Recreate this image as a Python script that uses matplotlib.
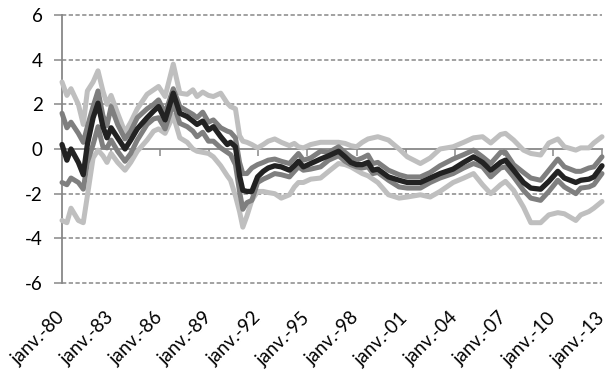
import matplotlib
matplotlib.use("Agg")
import matplotlib.pyplot as plt

plt.rcParams["font.family"] = ["Lato", "DejaVu Sans"]
plt.rcParams["axes.unicode_minus"] = False

# Dates in decimal years
dates = [1980.0, 1980.3, 1980.55, 1981.0, 1981.3, 1981.55, 1981.9, 1982.2, 1982.5, 1982.75,
         1983.0, 1983.4, 1983.85, 1984.2, 1984.6, 1985.2, 1985.6, 1985.9, 1986.3, 1986.8,
         1987.2, 1987.65, 1988.0, 1988.25, 1988.6, 1988.95, 1989.25, 1989.7, 1990.1, 1990.3,
         1990.6, 1990.85, 1991.05, 1991.3, 1991.6, 1991.95, 1992.3, 1992.6, 1993.0, 1993.4,
         1993.9, 1994.2, 1994.45, 1994.75, 1995.2, 1995.8, 1996.3, 1996.9, 1997.3, 1997.65,
         1998.0, 1998.35, 1998.7, 1999.0, 1999.3, 1999.95, 2000.6, 2001.1, 2001.9, 2002.5,
         2003.1, 2003.9, 2004.55, 2005.15, 2005.7, 2006.2, 2006.8, 2007.1, 2007.6, 2008.2,
         2008.65, 2009.25, 2009.75, 2010.3, 2010.7, 2011.4, 2011.7, 2012.2, 2012.5, 2013.0]

light_upper = [3.0, 2.4, 2.7, 2.0, 1.1, 2.6, 3.0, 3.5, 2.6, 2.0,
               2.4, 1.6, 0.75, 1.2, 1.8, 2.45, 2.65, 2.8, 2.35, 3.8,
               2.5, 2.45, 2.65, 2.35, 2.55, 2.4, 2.35, 2.5, 2.05, 1.9,
               1.8, 0.6, 0.35, 0.3, 0.2, 0.05, 0.2, 0.35, 0.45, 0.3,
               0.15, 0.25, 0.1, 0.05, 0.2, 0.3, 0.3, 0.3, 0.25, 0.15,
               0.1, 0.3, 0.45, 0.5, 0.55, 0.4, 0.0, -0.35, -0.65, -0.4,
               0.0, 0.1, 0.3, 0.5, 0.55, 0.27, 0.65, 0.7, 0.4, -0.05,
               -0.2, -0.27, 0.27, 0.45, 0.1, -0.05, 0.05, 0.05, 0.27, 0.55]

dark_upper = [1.6, 0.95, 1.2, 0.7, 0.3, 1.0, 1.9, 2.6, 1.5, 1.05,
              1.9, 1.1, 0.45, 0.8, 1.4, 1.8, 2.0, 2.2, 1.6, 2.7,
              1.9, 1.7, 1.55, 1.4, 1.65, 1.2, 1.3, 0.95, 0.8, 0.75,
              0.5, -0.6, -1.1, -1.1, -0.85, -0.7, -0.6, -0.5, -0.45, -0.55,
              -0.65, -0.4, -0.2, -0.5, -0.4, -0.1, -0.15, 0.1, -0.15, -0.35,
              -0.5, -0.4, -0.27, -0.65, -0.6, -0.95, -1.15, -1.25, -1.25, -1.05,
              -0.75, -0.45, -0.25, -0.05, -0.35, -0.65, -0.15, -0.15, -0.7, -1.05,
              -1.3, -1.4, -0.95, -0.45, -0.8, -1.0, -1.0, -0.85, -0.8, -0.35]

median = [0.2, -0.5, 0.0, -0.6, -1.15, 0.2, 1.4, 2.05, 1.0, 0.5,
          0.95, 0.5, 0.0, 0.4, 0.9, 1.4, 1.7, 1.9, 1.3, 2.5,
          1.6, 1.45, 1.25, 1.1, 1.25, 0.85, 1.0, 0.55, 0.2, 0.3,
          0.1, -1.2, -1.85, -1.9, -1.9, -1.25, -1.0, -0.85, -0.75, -0.8,
          -0.95, -0.75, -0.55, -0.8, -0.65, -0.45, -0.3, -0.1, -0.35, -0.6,
          -0.7, -0.7, -0.6, -0.95, -0.9, -1.25, -1.4, -1.5, -1.5, -1.3,
          -1.1, -0.9, -0.6, -0.35, -0.6, -0.95, -0.6, -0.5, -0.95, -1.5,
          -1.75, -1.8, -1.45, -1.0, -1.3, -1.5, -1.4, -1.35, -1.25, -0.75]

dark_lower = [-1.5, -1.6, -1.3, -1.5, -1.8, -0.6, 0.2, 1.0, 0.1, 0.05,
              0.4, -0.1, -0.55, -0.2, 0.4, 1.1, 1.35, 1.4, 0.9, 2.05,
              1.15, 1.0, 0.8, 0.55, 0.75, 0.35, 0.35, 0.05, -0.15, -0.25,
              -0.7, -1.9, -2.7, -2.4, -2.3, -1.5, -1.35, -1.25, -1.1, -1.15,
              -1.25, -1.0, -0.8, -0.95, -0.9, -0.8, -0.5, -0.3, -0.55, -0.7,
              -0.8, -0.85, -0.8, -1.1, -1.05, -1.4, -1.7, -1.75, -1.75, -1.5,
              -1.3, -1.1, -0.85, -0.65, -0.8, -1.25, -0.85, -0.8, -1.25, -1.85,
              -2.2, -2.3, -1.9, -1.4, -1.7, -2.0, -1.75, -1.7, -1.6, -1.1]

light_lower = [-3.2, -3.3, -2.65, -3.2, -3.3, -2.1, -0.4, -0.05, -0.3, -0.6,
               -0.2, -0.6, -0.95, -0.6, -0.1, 0.4, 0.8, 0.9, 0.7, 1.5,
               0.5, 0.3, 0.0, -0.1, -0.15, -0.2, -0.35, -0.75, -1.2, -1.4,
               -2.1, -2.8, -3.5, -3.0, -2.3, -1.9, -1.9, -1.95, -2.0, -2.2,
               -2.05, -1.7, -1.5, -1.5, -1.35, -1.3, -1.0, -0.65, -0.7, -0.8,
               -0.95, -1.1, -1.2, -1.35, -1.5, -2.05, -2.2, -2.15, -2.05, -2.15,
               -1.9, -1.5, -1.3, -1.1, -1.6, -2.0, -1.6, -1.45, -1.85, -2.6,
               -3.3, -3.3, -2.95, -2.85, -2.9, -3.2, -2.95, -2.8, -2.65, -2.35]

tick_years = [1980, 1983, 1986, 1989, 1992, 1995, 1998, 2001, 2004, 2007, 2010, 2013]
tick_labels = ["janv.-80", "janv.-83", "janv.-86", "janv.-89", "janv.-92", "janv.-95",
               "janv.-98", "janv.-01", "janv.-04", "janv.-07", "janv.-10", "janv.-13"]
y_ticks = [-6, -4, -2, 0, 2, 4, 6]

W, H = 611, 376
fig = plt.figure(figsize=(W / 100, H / 100), dpi=100)
ax = fig.add_axes([62 / W, 1 - 283 / H, (602 - 62) / W, (283 - 15) / H])

axis_col = "#888888"
for yv in y_ticks:
    if yv != 0:
        ax.axhline(yv, color=axis_col, lw=1.1, ls=(0, (2.8, 1.6)), zorder=1, clip_on=False)

light = "#BFBFBF"
dark = "#7F7F7F"
black = "#222222"
kw = dict(solid_joinstyle="round", solid_capstyle="round", zorder=3, clip_on=False)
ax.plot(dates, light_upper, color=light, lw=3.6, **kw)
ax.plot(dates, light_lower, color=light, lw=3.6, **kw)
ax.plot(dates, dark_upper, color=dark, lw=3.6, **kw)
ax.plot(dates, dark_lower, color=dark, lw=3.6, **kw)
ax.plot(dates, median, color=black, lw=3.8, **kw)

ax.set_xlim(1980, 2013)
ax.set_ylim(-6, 6)
ax.set_yticks(y_ticks)
ax.set_yticklabels([str(v) for v in y_ticks])

for s in ["top", "right"]:
    ax.spines[s].set_visible(False)
ax.spines["left"].set_color(axis_col)
ax.spines["left"].set_linewidth(1.3)
ax.spines["bottom"].set_position(("data", 0))
ax.spines["bottom"].set_color(axis_col)
ax.spines["bottom"].set_linewidth(1.3)
ax.spines["bottom"].set_zorder(2)

ax.set_xticks(tick_years)
ax.tick_params(axis="x", direction="out", length=5, width=1.1, color=axis_col, labelbottom=False)
ax.tick_params(axis="y", direction="out", length=6, width=1.1, color=axis_col,
               labelsize=13.5, pad=8, labelcolor="black")

sec = ax.secondary_xaxis("bottom")
sec.set_xticks(tick_years)
sec.set_xticklabels(tick_labels, rotation=45, ha="right", va="center", rotation_mode="anchor")
sec.tick_params(length=0, pad=23, labelsize=13.5)
sec.spines["bottom"].set_visible(False)

fig.savefig("out.png", dpi=100)
